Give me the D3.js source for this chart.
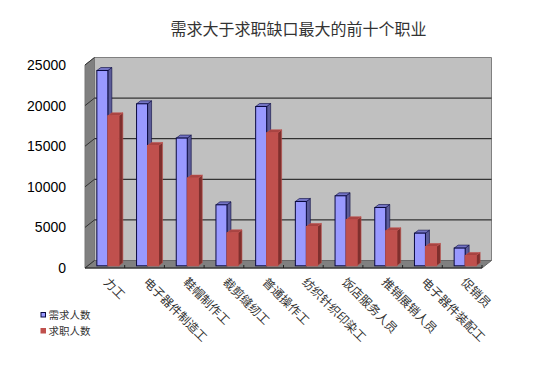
<!DOCTYPE html>
<html>
<head>
<meta charset="utf-8">
<script src="https://cdn.jsdelivr.net/npm/d3@7"></script>
<style>
body { margin: 0; background: #fff; }
svg { display: block; }
</style>
</head>
<body>
<svg id="chart" width="547" height="392"></svg>
<script>
var categories = ["力工", "电子器件制造工", "鞋帽制作工", "裁剪缝纫工", "普通操作工", "纺织针织印染工", "饭店服务人员", "推销展销人员", "电子器件装配工", "促销员"];
var demand = [24050, 19950, 15730, 7510, 19620, 7920, 8620, 7180, 4020, 2180];
var seekers = [18470, 14820, 10800, 4060, 16380, 4840, 5670, 4310, 2380, 1270];
var yTicks = [0, 5000, 10000, 15000, 20000, 25000];
var seriesNames = ["需求人数", "求职人数"];
var title = "需求大于求职缺口最大的前十个职业";

var dimensions = {
    width: 547,
    height: 392,
    margin: { top: 65, bottom: 124, right: 65, left: 85 }
}
var cjk = "'Noto Sans CJK SC', sans-serif";
var latin = "'Liberation Sans', Arial, sans-serif";

// depth of the back wall, and of a single bar
var wallDx = 9.5, wallDy = 7.5;
var barDx = 4, barDy = 3;
var midDx = 3, midDy = 2.2;

var svg = d3.select("#chart");

var left = dimensions.margin.left;
var right = dimensions.width - dimensions.margin.right;
var bottom = dimensions.height - dimensions.margin.bottom;

var xScale = d3.scaleBand()
               .domain(categories)
               .range([left, right]);

var yScale = d3.scaleLinear()
               .domain([0, 25000])
               .range([bottom, dimensions.margin.top]);

function pts(list) {
    return list.map(function(p){ return p.join(","); }).join(" ");
}

// walls and floor
svg.append("polygon")
   .attr("points", pts([[left + wallDx, yScale(25000) - wallDy], [right + wallDx, yScale(25000) - wallDy], [right + wallDx, yScale(0) - wallDy], [left + wallDx, yScale(0) - wallDy]]))
   .style("fill", "#c0c0c0")
   .style("stroke", "#808080");

svg.append("polygon")
   .attr("points", pts([[left, yScale(25000)], [left + wallDx, yScale(25000) - wallDy], [left + wallDx, yScale(0) - wallDy], [left, yScale(0)]]))
   .style("fill", "#808080")
   .style("stroke", "#777");

svg.append("polygon")
   .attr("points", pts([[left, yScale(0)], [left + wallDx, yScale(0) - wallDy], [right + wallDx, yScale(0) - wallDy], [right, yScale(0)]]))
   .style("fill", "#808080")
   .style("stroke", "#666");

// gridlines on the back wall, with the slant across the side wall
svg.append("g")
   .selectAll("line")
   .data(yTicks.filter(function(d){ return d > 0 && d < 25000; }))
   .enter()
   .append("line")
   .attr("x1", left + wallDx)
   .attr("x2", right + wallDx)
   .attr("y1", function(d){ return yScale(d) - wallDy; })
   .attr("y2", function(d){ return yScale(d) - wallDy; })
   .style("stroke", "#111")
   .style("stroke-width", 1);

svg.append("g")
   .selectAll("line")
   .data(yTicks)
   .enter()
   .append("line")
   .attr("x1", left)
   .attr("x2", left + wallDx)
   .attr("y1", function(d){ return yScale(d); })
   .attr("y2", function(d){ return yScale(d) - wallDy; })
   .style("stroke", "#333")
   .style("stroke-width", 1);

// 3d bars
var barWidth = 11;
var series = [
    { values: demand, offset: -barWidth, front: "#9999ff", top: "#7474c4", side: "#5c5c99", stroke: "#0a0a40" },
    { values: seekers, offset: 0, front: "#c0504d", top: "#a84442", side: "#7f2f2d", stroke: "#c0504d" }
];

series.forEach(function(s){
    var group = svg.append("g");
    s.values.forEach(function(v, i){
        var x0 = xScale(categories[i]) + xScale.bandwidth() / 2 + midDx + s.offset;
        var x1 = x0 + barWidth;
        var yTop = yScale(v) - midDy;
        var yBase = yScale(0) - midDy;

        group.append("polygon")
             .attr("points", pts([[x1, yTop], [x1 + barDx, yTop - barDy], [x1 + barDx, yBase - barDy], [x1, yBase]]))
             .style("fill", s.side)
             .style("stroke", s.stroke)
             .style("stroke-width", 0.6);
        group.append("polygon")
             .attr("points", pts([[x0, yTop], [x0 + barDx, yTop - barDy], [x1 + barDx, yTop - barDy], [x1, yTop]]))
             .style("fill", s.top)
             .style("stroke", s.stroke)
             .style("stroke-width", 0.6);
        group.append("rect")
             .attr("x", x0)
             .attr("y", yTop)
             .attr("width", barWidth)
             .attr("height", yBase - yTop)
             .style("fill", s.front)
             .style("stroke", s.stroke)
             .style("stroke-width", 1);
    });
});

// front axis line and the small category ticks
svg.append("line")
   .attr("x1", left)
   .attr("x2", right)
   .attr("y1", bottom)
   .attr("y2", bottom)
   .style("stroke", "#222")
   .style("stroke-width", 1.2);

svg.append("g")
   .selectAll("line")
   .data(categories)
   .enter()
   .append("line")
   .attr("x1", function(d){ return xScale(d) + xScale.bandwidth(); })
   .attr("x2", function(d){ return xScale(d) + xScale.bandwidth(); })
   .attr("y1", bottom)
   .attr("y2", bottom - 3)
   .style("stroke", "#222");

// y axis labels
var yAxisGen = d3.axisLeft().scale(yScale).tickValues(yTicks).tickSize(0).tickPadding(19).tickFormat(d3.format("d"));
var yAxis = svg.append("g")
               .call(yAxisGen)
               .style("transform", "translateX(" + left + "px)");
yAxis.select(".domain").remove();
yAxis.selectAll("text")
     .style("font-family", latin)
     .style("font-size", "14px")
     .style("fill", "#000");

// slanted category labels
svg.append("g")
   .selectAll("text")
   .data(categories)
   .enter()
   .append("text")
   .attr("transform", function(d){
       return "translate(" + (xScale(d) + 18) + "," + (bottom + 15) + ") rotate(45)";
   })
   .style("font-family", cjk)
   .style("font-size", "12px")
   .style("fill", "#333")
   .text(function(d){ return d; });

svg.append("text")
   .attr("x", 298.5)
   .attr("y", 35)
   .attr("text-anchor", "middle")
   .style("font-family", cjk)
   .style("font-size", "16px")
   .style("fill", "#333")
   .text(title);

// legend
var legendY = d3.scalePoint().domain(seriesNames).range([315, 331]);
var legendColors = d3.scaleOrdinal().domain(seriesNames).range(["#9999ff", "#c0504d"]);
var legendStrokes = d3.scaleOrdinal().domain(seriesNames).range(["#0a0a40", "#c0504d"]);

var legend = svg.append("g")
                .selectAll("g")
                .data(seriesNames)
                .enter()
                .append("g")
                .attr("transform", function(d){ return "translate(41," + legendY(d) + ")"; });

legend.append("rect")
      .attr("x", 0)
      .attr("y", -2.5)
      .attr("width", 4.5)
      .attr("height", 4.5)
      .style("fill", function(d){ return legendColors(d); })
      .style("stroke", function(d){ return legendStrokes(d); });

legend.append("text")
      .attr("x", 7.5)
      .attr("y", 4)
      .style("font-family", cjk)
      .style("font-size", "10.5px")
      .style("fill", "#333")
      .text(function(d){ return d; });
</script>
</body>
</html>
